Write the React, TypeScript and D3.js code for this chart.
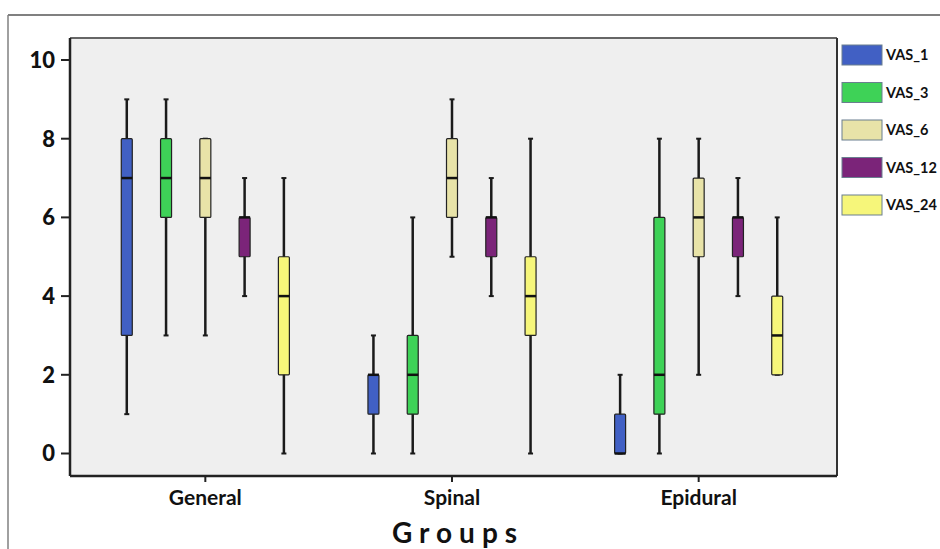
import React from 'react'
import * as d3 from 'd3'

// groups on the x axis
const groups = ['General', 'Spinal', 'Epidural']
const series = ['VAS_1', 'VAS_3', 'VAS_6', 'VAS_12', 'VAS_24']
const colors = ['#4160c4', '#3ed257', '#e8e3a8', '#7b2479', '#f6f67a']
const yTicks = [0, 2, 4, 6, 8, 10]

// box stats per group, one value per series: min, q1, median, q3, max
const mins = [
	[1, 3, 3, 4, 0],
	[0, 0, 5, 4, 0],
	[0, 0, 2, 4, 2],
]
const q1s = [
	[3, 6, 6, 5, 2],
	[1, 1, 6, 5, 3],
	[0, 1, 5, 5, 2],
]
const medians = [
	[7, 7, 7, 6, 4],
	[2, 2, 7, 6, 4],
	[0, 2, 6, 6, 3],
]
const q3s = [
	[8, 8, 8, 6, 5],
	[2, 3, 8, 6, 5],
	[1, 6, 7, 6, 4],
]
const maxs = [
	[9, 9, 8, 7, 7],
	[3, 6, 9, 7, 8],
	[2, 8, 8, 7, 6],
]

const W = 940
const H = 549
const plot = { left: 70, right: 837, top: 38, bottom: 476 }
const font = "Lato, 'Open Sans', sans-serif"

export default function App() {
	const y = d3.scaleLinear().domain([0, 10]).range([453.5, 60])
	const x = d3.scaleBand().domain(groups).range([82, 822]).padding(0)
	const inner = d3
		.scaleBand()
		.domain(series)
		.range([0, x.bandwidth()])
		.paddingInner(0.72)
		.paddingOuter(1)
	const bw = inner.bandwidth()

	return (
		<svg
			width={W}
			height={H}
			style={{ position: 'absolute', left: 0, top: 0, background: '#fff' }}
		>
			{/* outer frame */}
			<line x1={8} y1={15} x2={W} y2={15} stroke='#808080' strokeWidth={2} />
			<line x1={8} y1={15} x2={8} y2={H} stroke='#808080' strokeWidth={1.5} />

			{/* plot area */}
			<rect
				x={plot.left}
				y={plot.top}
				width={plot.right - plot.left}
				height={plot.bottom - plot.top}
				fill='#efefef'
			/>
			<line x1={plot.left} y1={plot.top} x2={plot.right} y2={plot.top} stroke='#666' strokeWidth={2} />
			<line x1={plot.right} y1={plot.top} x2={plot.right} y2={plot.bottom} stroke='#333' strokeWidth={2} />
			<line x1={plot.left} y1={plot.top} x2={plot.left} y2={plot.bottom} stroke='#222' strokeWidth={2.5} />
			<line x1={plot.left} y1={plot.bottom} x2={plot.right} y2={plot.bottom} stroke='#222' strokeWidth={2.5} />

			{/* y axis */}
			{yTicks.map(t => (
				<g key={t}>
					<line x1={61} x2={plot.left} y1={y(t)} y2={y(t)} stroke='#222' strokeWidth={2} />
					<text
						x={55}
						y={y(t)}
						dy='0.36em'
						textAnchor='end'
						fontFamily={font}
						fontWeight='900'
						fontSize={22}
						fill='#111'
					>
						{t}
					</text>
				</g>
			))}

			{/* x axis */}
			{groups.map(g => {
				const cx = (x(g) as number) + x.bandwidth() / 2
				return (
					<g key={g}>
						<line x1={cx} x2={cx} y1={plot.bottom} y2={plot.bottom + 6} stroke='#222' strokeWidth={2} />
						<text
							x={cx}
							y={505}
							textAnchor='middle'
							fontFamily={font}
							fontWeight='bold'
							fontSize={21}
							fill='#111'
						>
							{g}
						</text>
					</g>
				)
			})}
			<text
				x={458}
				y={543}
				textAnchor='middle'
				fontFamily={font}
				fontWeight='bold'
				fontSize={28}
				letterSpacing={7}
				fill='#111'
			>
				Groups
			</text>

			{/* boxes */}
			{groups.map((g, gi) =>
				series.map((s, si) => {
					const cx = (x(g) as number) + (inner(s) as number) + bw / 2
					const top = y(q3s[gi][si])
					const bot = y(q1s[gi][si])
					return (
						<g key={g + s}>
							<line x1={cx} x2={cx} y1={y(maxs[gi][si])} y2={y(mins[gi][si])} stroke='#1a1a1a' strokeWidth={2.5} />
							<line x1={cx - 2.5} x2={cx + 2.5} y1={y(maxs[gi][si])} y2={y(maxs[gi][si])} stroke='#1a1a1a' strokeWidth={2} />
							<line x1={cx - 2.5} x2={cx + 2.5} y1={y(mins[gi][si])} y2={y(mins[gi][si])} stroke='#1a1a1a' strokeWidth={2} />
							<rect
								x={cx - bw / 2}
								y={top}
								width={bw}
								height={Math.max(bot - top, 0)}
								fill={colors[si]}
								stroke='#222'
								strokeWidth={1.2}
								rx={1}
							/>
							<line
								x1={cx - bw / 2}
								x2={cx + bw / 2}
								y1={y(medians[gi][si])}
								y2={y(medians[gi][si])}
								stroke='#111'
								strokeWidth={2.5}
							/>
						</g>
					)
				})
			)}

			{/* legend */}
			{series.map((s, i) => {
				const ly = 45 + i * 37.5
				return (
					<g key={s}>
						<rect x={842} y={ly} width={40} height={20} fill={colors[i]} stroke='#6a7f8f' strokeWidth={1} />
						<text
							x={886}
							y={ly + 10}
							dy='0.36em'
							fontFamily={font}
							fontWeight='bold'
							fontSize={14.5}
							fill='#111'
						>
							{s}
						</text>
					</g>
				)
			})}
		</svg>
	)
}
